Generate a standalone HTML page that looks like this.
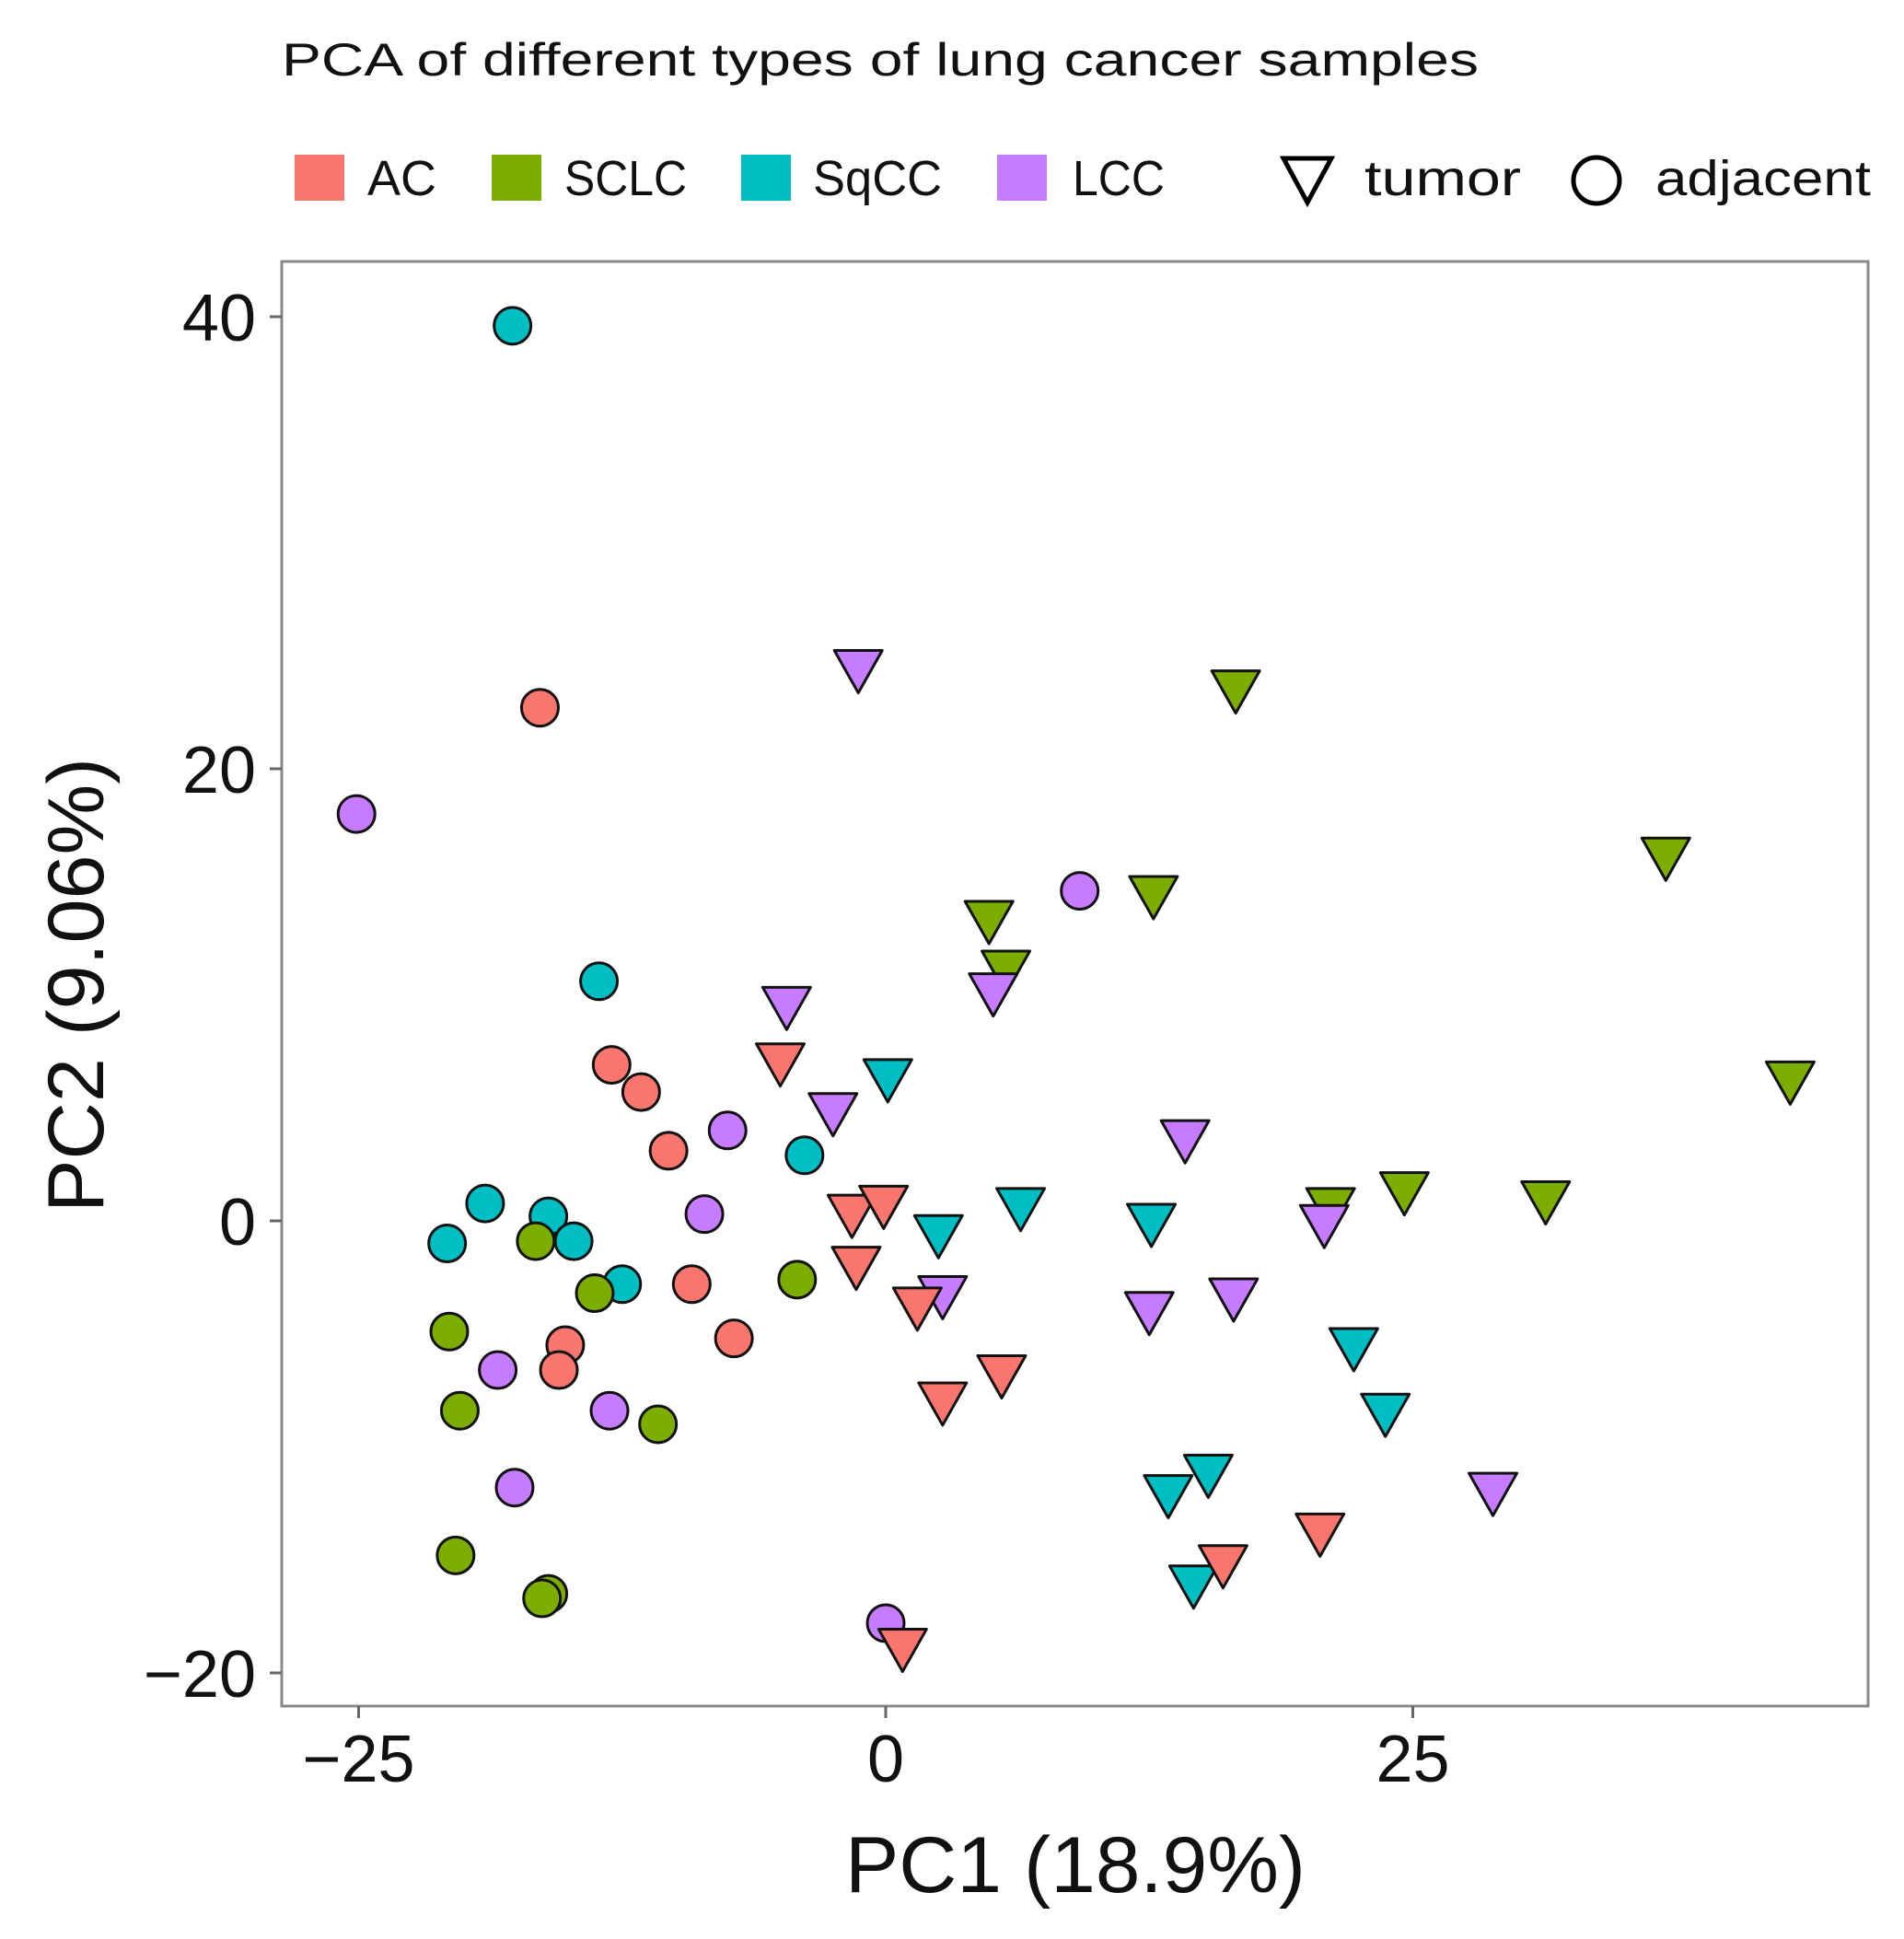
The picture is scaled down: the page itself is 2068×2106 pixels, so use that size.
<!DOCTYPE html>
<html><head><meta charset="utf-8"><style>
html,body{margin:0;padding:0;background:#fff}
svg{display:block}
text{font-family:"Liberation Sans",sans-serif;fill:#111}
</style></head><body>
<svg id="chart" width="2068" height="2106" viewBox="0 0 2068 2106" xmlns="http://www.w3.org/2000/svg">
<text x="306" y="82" font-size="50" textLength="1300" lengthAdjust="spacingAndGlyphs">PCA of different types of lung cancer samples</text>
<g>
<rect x="320" y="168" width="54" height="50" fill="#F8766D"/>
<text x="399" y="212" font-size="54">AC</text>
<rect x="534" y="168" width="54" height="50" fill="#7CAE00"/>
<text x="613" y="212" font-size="54" textLength="133" lengthAdjust="spacingAndGlyphs">SCLC</text>
<rect x="805" y="168" width="54" height="50" fill="#00BFC4"/>
<text x="883" y="212" font-size="54" textLength="140" lengthAdjust="spacingAndGlyphs">SqCC</text>
<rect x="1083" y="168" width="54" height="50" fill="#C77CFF"/>
<text x="1165" y="212" font-size="54" textLength="100" lengthAdjust="spacingAndGlyphs">LCC</text>
<polygon points="1394,172 1446,172 1420,220" fill="none" stroke="#000" stroke-width="5"/>
<text x="1482" y="212" font-size="54" textLength="170" lengthAdjust="spacingAndGlyphs">tumor</text>
<circle cx="1734" cy="196" r="25" fill="none" stroke="#000" stroke-width="5"/>
<text x="1798" y="212" font-size="54" textLength="234" lengthAdjust="spacingAndGlyphs">adjacent</text>
</g>
<rect x="306" y="284" width="1723" height="1569" fill="#fff" stroke="#888" stroke-width="3"/>
<g id="axes"></g>
<g id="marks"></g>
<text x="918" y="2055" font-size="86" textLength="500" lengthAdjust="spacingAndGlyphs">PC1 (18.9%)</text>
<text transform="translate(112,1317) rotate(-90)" font-size="86" textLength="494" lengthAdjust="spacingAndGlyphs">PC2 (9.06%)</text>
</svg>
<script>
const xTicks=[-25,0,25];
const yTicks=[-20,0,20,40];
const acCircX=[-16.4,-13.0,-11.6,-10.3,-9.2,-7.2,-15.2,-15.5];
const acCircY=[22.7,6.9,5.7,3.1,-2.8,-5.2,-5.5,-6.6];
const sclcCircX=[-16.6,-13.8,-4.2,-20.7,-20.2,-10.8,-20.4,-16.0,-16.3];
const sclcCircY=[-0.9,-3.2,-2.6,-4.9,-8.4,-9.0,-14.8,-16.5,-16.7];
const sqccCircX=[-17.7,-13.6,-3.85,-19.0,-20.8,-16.0,-14.8,-12.5];
const sqccCircY=[39.6,10.6,2.9,0.77,-1.0,0.2,-0.9,-2.8];
const lccCircX=[-25.1,9.2,-7.5,-8.6,-18.4,-13.1,-17.6,0];
const lccCircY=[18.0,14.6,4.0,0.3,-6.6,-8.4,-11.8,-17.8];
const acTriX=[-5.0,-1.6,-0.1,-1.4,1.5,2.7,5.5,16.0,20.6,0.8];
const acTriY=[7.1,0.4,0.8,-1.9,-3.7,-7.9,-6.7,-15.1,-13.7,-18.8];
const sclcTriX=[16.6,4.9,5.7,12.7,37.0,42.9,21.1,24.6,31.3];
const sclcTriY=[23.6,13.4,11.2,14.5,16.2,6.3,0.7,1.4,1.0];
const sqccTriX=[0.1,2.5,6.4,12.6,22.2,23.7,13.4,15.3,14.6];
const sqccTriY=[6.4,-0.5,0.7,0.0,-5.5,-8.4,-12.0,-11.1,-16.0];
const lccTriX=[-1.3,-4.7,-2.5,5.1,14.2,2.7,20.8,12.5,16.5,28.8];
const lccTriY=[24.5,9.6,4.9,10.2,3.7,-3.2,-0.05,-3.9,-3.3,-11.9];

const NS="http://www.w3.org/2000/svg";
function sx(v){return 962+v*22.9;}
function sy(v){return 1326-v*24.55;}
const axes=document.getElementById('axes');
const marks=document.getElementById('marks');
function mk(tag,attrs,parent){const e=document.createElementNS(NS,tag);for(const k in attrs)e.setAttribute(k,attrs[k]);parent.appendChild(e);return e;}
xTicks.forEach(t=>{
  const l=mk('line',{x1:sx(t),x2:sx(t),y1:1853,y2:1866,stroke:'#666','stroke-width':3},axes);
  
  
  const tx=mk('text',{x:sx(t),y:1935,'font-size':72,'text-anchor':'middle'},axes);
  
  
  tx.textContent=t<0?'\u2212'+(-t):String(t);
});
yTicks.forEach(t=>{
  const l=mk('line',{x1:293,x2:306,y1:sy(t),y2:sy(t),stroke:'#666','stroke-width':3},axes);
  
  
  const tx=mk('text',{x:278,y:sy(t)+26,'font-size':72,'text-anchor':'end'},axes);
  
  
  tx.textContent=t<0?'\u2212'+(-t):String(t);
});
function circles(xs,ys,color,name){
  xs.forEach((x,i)=>{
    const c=mk('circle',{cx:sx(x),cy:sy(ys[i]),r:20,fill:color,stroke:'#111','stroke-width':3},marks);
    
    
  });
}
function tris(xs,ys,color,name){
  xs.forEach((x,i)=>{
    const cx=sx(x),cy=sy(ys[i]);
    const p=mk('polygon',{points:`${cx-26},${cy-18} ${cx+26},${cy-18} ${cx},${cy+28}`,fill:color,stroke:'#111','stroke-width':3,'stroke-linejoin':'round'},marks);
    
    
  });
}
circles(sqccCircX,sqccCircY,'#00BFC4','sqcc-adjacent-point');
circles(acCircX,acCircY,'#F8766D','ac-adjacent-point');
circles(lccCircX,lccCircY,'#C77CFF','lcc-adjacent-point');
circles(sclcCircX,sclcCircY,'#7CAE00','sclc-adjacent-point');
tris(sclcTriX,sclcTriY,'#7CAE00','sclc-tumor-point');
tris(lccTriX,lccTriY,'#C77CFF','lcc-tumor-point');
tris(sqccTriX,sqccTriY,'#00BFC4','sqcc-tumor-point');
tris(acTriX,acTriY,'#F8766D','ac-tumor-point');
</script>
</body></html>
